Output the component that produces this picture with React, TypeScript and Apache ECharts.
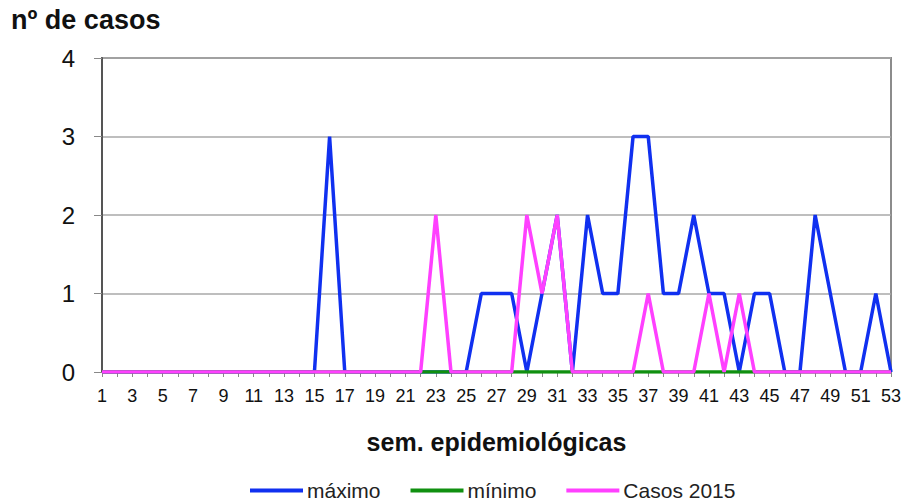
import React, { useEffect, useRef } from "react";
import * as echarts from "echarts";

const weeks: string[] = [
  "1","2","3","4","5","6","7","8","9","10","11","12","13","14","15","16","17","18",
  "19","20","21","22","23","24","25","26","27","28","29","30","31","32","33","34","35","36",
  "37","38","39","40","41","42","43","44","45","46","47","48","49","50","51","52","53",
];

const maximo: number[] = [
  0,0,0,0,0,0,0,0,0,0,0,0,0,0,0,3,0,0,
  0,0,0,0,0,0,0,1,1,1,0,1,2,0,2,1,1,3,
  3,1,1,2,1,1,0,1,1,0,0,2,1,0,0,1,0,
];

const minimo: number[] = [
  0,0,0,0,0,0,0,0,0,0,0,0,0,0,0,0,0,0,
  0,0,0,0,0,0,0,0,0,0,0,0,0,0,0,0,0,0,
  0,0,0,0,0,0,0,0,0,0,0,0,0,0,0,0,0,
];

const casos2015: number[] = [
  0,0,0,0,0,0,0,0,0,0,0,0,0,0,0,0,0,0,
  0,0,0,0,2,0,0,0,0,0,2,1,2,0,0,0,0,0,
  1,0,0,0,1,0,1,0,0,0,0,0,0,0,0,0,0,
];

const yTicks: number[] = [0, 1, 2, 3, 4];

const FONT = "'Liberation Sans', Arial, sans-serif";
const NARROW = "'Liberation Sans Narrow', 'Arial Narrow', 'Liberation Sans', sans-serif";

export default function App() {
  const ref = useRef<HTMLDivElement>(null);

  useEffect(() => {
    if (!ref.current) return;
    const chart = echarts.init(ref.current, undefined, { renderer: "svg" });
    const lineSeries = (name: string, data: number[], color: string, width: number, z: number) => ({
      name,
      type: "line",
      data,
      symbol: "none",
      z,
      lineStyle: { color, width },
      itemStyle: { color },
    });
    chart.setOption({
      animation: false,
      backgroundColor: "#ffffff",
      title: {
        text: "nº de casos",
        left: 11,
        top: 6,
        padding: 0,
        textStyle: { fontFamily: FONT, fontWeight: "bold", fontSize: 27, color: "#111" },
      },
      grid: {
        left: 102,
        right: 15,
        top: 58,
        bottom: 131,
        show: true,
        borderColor: "#8c8c8c",
        borderWidth: 2,
        backgroundColor: "transparent",
      },
      legend: {
        top: 480,
        left: 250,
        padding: 0,
        itemWidth: 53,
        itemHeight: 4,
        itemGap: 30,
        icon: "rect",
        textStyle: { fontFamily: FONT, fontSize: 21, lineHeight: 21, color: "#222", padding: [0, 0, 0, -1] },
        data: [
          { name: "máximo", itemStyle: { color: "#1030F0" } },
          { name: "mínimo", itemStyle: { color: "#109010" } },
          { name: "Casos 2015", itemStyle: { color: "#FF40FF" } },
        ],
      },
      xAxis: {
        type: "category",
        data: weeks,
        boundaryGap: false,
        name: "sem. epidemiológicas",
        nameLocation: "middle",
        nameGap: 57,
        nameTextStyle: { fontFamily: FONT, fontWeight: "bold", fontSize: 25, color: "#111" },
        axisLine: { show: true, lineStyle: { color: "#888", width: 1 } },
        axisTick: { show: true, interval: 0, length: 5, lineStyle: { color: "#888" } },
        axisLabel: {
          interval: 1,
          margin: 15,
          fontFamily: NARROW,
          fontSize: 18,
          color: "#111",
        },
        splitLine: { show: false },
      },
      yAxis: {
        type: "value",
        min: 0,
        max: 4,
        interval: 1,
        axisLine: { show: true, lineStyle: { color: "#555", width: 2 } },
        axisTick: { show: true, length: 8, lineStyle: { color: "#888" } },
        axisLabel: {
          margin: 27,
          fontFamily: FONT,
          fontSize: 24,
          color: "#111",
          formatter: (v: number) => (yTicks.includes(v) ? String(v) : ""),
        },
        splitLine: { show: true, lineStyle: { color: "#a8a8a8", width: 1.5 } },
      },
      series: [
        lineSeries("máximo", maximo, "#1030F0", 3.5, 2),
        lineSeries("mínimo", minimo, "#109010", 3.5, 3),
        lineSeries("Casos 2015", casos2015, "#FF40FF", 3.5, 4),
      ],
    });
    return () => chart.dispose();
  }, []);

  return (
    <div
      ref={ref}
      style={{ position: "fixed", left: 0, top: 0, width: 906, height: 503, background: "#fff" }}
    />
  );
}
